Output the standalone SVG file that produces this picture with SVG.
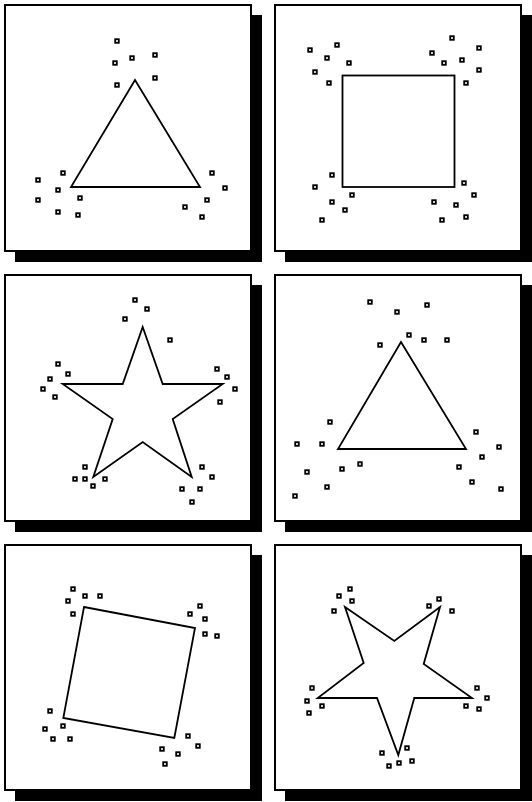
<svg xmlns="http://www.w3.org/2000/svg" xmlns:xlink="http://www.w3.org/1999/xlink" width="532" height="802" viewBox="0 0 532 802">
<style>
.sh{fill:#000}
.fr{fill:#fff;stroke:#000;stroke-width:2}
.sp{fill:none;stroke:#000;stroke-width:1.8;stroke-linejoin:miter}
.dt{fill:#fff;stroke:#000;stroke-width:1.8}
</style>
<defs>
<rect id="d" class="dt" x="-1.8" y="-1.8" width="3.6" height="3.6"/>
</defs>
<rect width="532" height="802" fill="#fff"/>

<g id="panel1">
<rect class="sh" x="15" y="15" width="247" height="247"/>
<rect class="fr" x="5" y="5" width="246" height="246"/>
<polygon class="sp" points="135,80 200,187 71,187"/>
<use xlink:href="#d" x="117" y="41"/><use xlink:href="#d" x="132" y="58"/><use xlink:href="#d" x="155" y="55"/>
<use xlink:href="#d" x="115" y="63"/><use xlink:href="#d" x="155" y="78"/><use xlink:href="#d" x="117" y="85"/>
<use xlink:href="#d" x="63" y="173"/><use xlink:href="#d" x="38" y="180"/><use xlink:href="#d" x="58" y="190"/>
<use xlink:href="#d" x="80" y="198"/><use xlink:href="#d" x="38" y="200"/><use xlink:href="#d" x="58" y="212"/>
<use xlink:href="#d" x="78" y="215"/>
<use xlink:href="#d" x="212" y="173"/><use xlink:href="#d" x="225" y="188"/><use xlink:href="#d" x="207" y="200"/>
<use xlink:href="#d" x="185" y="207"/><use xlink:href="#d" x="202" y="217"/>
</g>

<g id="panel2">
<rect class="sh" x="285" y="15" width="247" height="247"/>
<rect class="fr" x="275" y="5" width="246" height="246"/>
<rect class="sp" x="342.5" y="75.5" width="112" height="111.5"/>
<use xlink:href="#d" x="310" y="50"/><use xlink:href="#d" x="337" y="45"/><use xlink:href="#d" x="327" y="58"/>
<use xlink:href="#d" x="349" y="63"/><use xlink:href="#d" x="315" y="72"/><use xlink:href="#d" x="329" y="83"/>
<use xlink:href="#d" x="452" y="38"/><use xlink:href="#d" x="479" y="48"/><use xlink:href="#d" x="432" y="53"/>
<use xlink:href="#d" x="444" y="63"/><use xlink:href="#d" x="462" y="60"/><use xlink:href="#d" x="479" y="70"/>
<use xlink:href="#d" x="466" y="83"/>
<use xlink:href="#d" x="332" y="175"/><use xlink:href="#d" x="315" y="187"/><use xlink:href="#d" x="352" y="195"/>
<use xlink:href="#d" x="332" y="202"/><use xlink:href="#d" x="345" y="210"/><use xlink:href="#d" x="322" y="220"/>
<use xlink:href="#d" x="464" y="183"/><use xlink:href="#d" x="474" y="195"/><use xlink:href="#d" x="434" y="202"/>
<use xlink:href="#d" x="456" y="205"/><use xlink:href="#d" x="442" y="220"/><use xlink:href="#d" x="466" y="217"/>
</g>

<g id="panel3">
<rect class="sh" x="15" y="285" width="247" height="247"/>
<rect class="fr" x="5" y="275" width="246" height="246"/>
<polygon class="sp" points="142.7,327 162.7,384 222.7,384 172.7,419 191.7,477 142.7,442 93.3,477 112.7,419 62.7,384 122.7,384"/>
<use xlink:href="#d" x="135" y="300"/><use xlink:href="#d" x="147" y="309"/><use xlink:href="#d" x="125" y="319"/>
<use xlink:href="#d" x="170" y="340"/>
<use xlink:href="#d" x="58" y="364"/><use xlink:href="#d" x="68" y="374"/><use xlink:href="#d" x="50" y="379"/>
<use xlink:href="#d" x="43" y="389"/><use xlink:href="#d" x="55" y="397"/>
<use xlink:href="#d" x="217" y="369"/><use xlink:href="#d" x="227" y="377"/><use xlink:href="#d" x="235" y="389"/>
<use xlink:href="#d" x="220" y="402"/>
<use xlink:href="#d" x="85" y="467"/><use xlink:href="#d" x="75" y="479"/><use xlink:href="#d" x="85" y="479"/>
<use xlink:href="#d" x="105" y="479"/><use xlink:href="#d" x="93" y="486"/>
<use xlink:href="#d" x="202" y="467"/><use xlink:href="#d" x="212" y="477"/><use xlink:href="#d" x="182" y="489"/>
<use xlink:href="#d" x="200" y="489"/><use xlink:href="#d" x="192" y="502"/>
</g>

<g id="panel4">
<rect class="sh" x="285" y="285" width="247" height="247"/>
<rect class="fr" x="275" y="275" width="246" height="246"/>
<polygon class="sp" points="401,342 466,449 338,449"/>
<use xlink:href="#d" x="370" y="302"/><use xlink:href="#d" x="397" y="312"/><use xlink:href="#d" x="427" y="305"/>
<use xlink:href="#d" x="409" y="335"/><use xlink:href="#d" x="424" y="340"/><use xlink:href="#d" x="447" y="340"/>
<use xlink:href="#d" x="380" y="345"/>
<use xlink:href="#d" x="330" y="422"/><use xlink:href="#d" x="297" y="444"/><use xlink:href="#d" x="322" y="444"/>
<use xlink:href="#d" x="360" y="464"/><use xlink:href="#d" x="342" y="469"/><use xlink:href="#d" x="307" y="472"/>
<use xlink:href="#d" x="327" y="487"/><use xlink:href="#d" x="295" y="496"/>
<use xlink:href="#d" x="476" y="432"/><use xlink:href="#d" x="499" y="447"/><use xlink:href="#d" x="482" y="457"/>
<use xlink:href="#d" x="459" y="467"/><use xlink:href="#d" x="472" y="482"/><use xlink:href="#d" x="501" y="489"/>
</g>

<g id="panel5">
<rect class="sh" x="15" y="555" width="247" height="246"/>
<rect class="fr" x="5" y="545" width="246" height="245"/>
<polygon class="sp" points="84,607 195,628 174.3,738 63.3,718"/>
<use xlink:href="#d" x="73" y="589"/><use xlink:href="#d" x="85" y="596"/><use xlink:href="#d" x="100" y="596"/>
<use xlink:href="#d" x="68" y="601"/><use xlink:href="#d" x="73" y="614"/>
<use xlink:href="#d" x="200" y="606"/><use xlink:href="#d" x="190" y="614"/><use xlink:href="#d" x="205" y="619"/>
<use xlink:href="#d" x="205" y="634"/><use xlink:href="#d" x="217" y="636"/>
<use xlink:href="#d" x="50" y="711"/><use xlink:href="#d" x="45" y="729"/><use xlink:href="#d" x="63" y="726"/>
<use xlink:href="#d" x="53" y="739"/><use xlink:href="#d" x="70" y="739"/>
<use xlink:href="#d" x="188" y="736"/><use xlink:href="#d" x="198" y="746"/><use xlink:href="#d" x="162" y="749"/>
<use xlink:href="#d" x="178" y="754"/><use xlink:href="#d" x="165" y="764"/>
</g>

<g id="panel6">
<rect class="sh" x="285" y="555" width="247" height="246"/>
<rect class="fr" x="275" y="545" width="246" height="245"/>
<polygon class="sp" points="345,607 394.3,641 440,607 423.7,664 472,698 414.3,698 398.3,755 377,698 317.7,698 363.7,663"/>
<use xlink:href="#d" x="350" y="589"/><use xlink:href="#d" x="339" y="596"/><use xlink:href="#d" x="352" y="601"/>
<use xlink:href="#d" x="334" y="611"/>
<use xlink:href="#d" x="439" y="599"/><use xlink:href="#d" x="429" y="606"/><use xlink:href="#d" x="452" y="611"/>
<use xlink:href="#d" x="312" y="688"/><use xlink:href="#d" x="307" y="701"/><use xlink:href="#d" x="322" y="706"/>
<use xlink:href="#d" x="309" y="713"/>
<use xlink:href="#d" x="477" y="688"/><use xlink:href="#d" x="487" y="698"/><use xlink:href="#d" x="466" y="706"/>
<use xlink:href="#d" x="479" y="709"/>
<use xlink:href="#d" x="382" y="753"/><use xlink:href="#d" x="407" y="748"/><use xlink:href="#d" x="389" y="766"/>
<use xlink:href="#d" x="399" y="763"/><use xlink:href="#d" x="412" y="761"/>
</g>
</svg>
